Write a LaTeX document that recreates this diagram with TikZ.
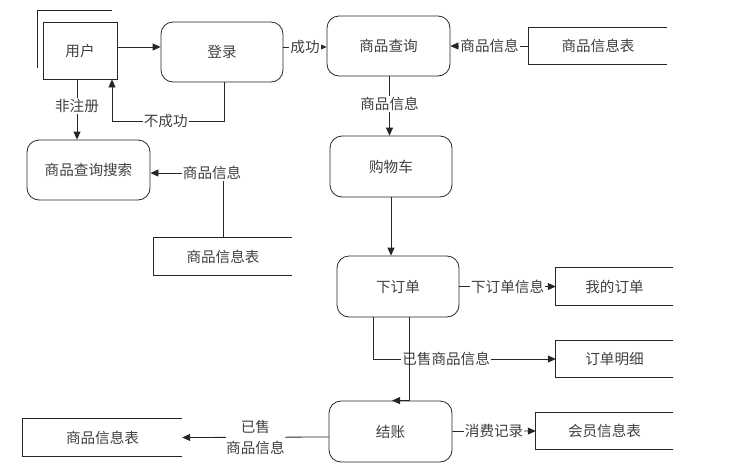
\documentclass[tikz,border=0pt]{standalone}
\usepackage{fontspec}
\newfontfamily\cjk{Noto Sans CJK SC}
\usetikzlibrary{arrows.meta}
\begin{document}
\begin{tikzpicture}[x=1pt,y=-1pt,
  every node/.style={font=\cjk\fontsize{14.6}{17}\selectfont, text=black!75},
  proc/.style={draw=black!85, line width=0.8pt, rounded corners=12pt, minimum width=#1, minimum height=60pt, inner sep=0pt},
  proc/.default=122pt,
  ent/.style={draw=black!85, line width=0.8pt, minimum width=74pt, minimum height=57pt},
  store/.style={minimum height=36pt, inner sep=0pt},
  lbl/.style={fill=white, inner sep=1pt},
  conn/.style={draw=black!85, line width=0.8pt},
  arr/.style={conn, -{Triangle[length=8pt,width=7pt]}}
]
\useasboundingbox (0,0) rectangle (746,466);

% nodes
\node[ent] (user) at (80,50.5) {用户};
\node[proc] (login) at (222,52) {登录};
\node[proc=123pt] (query) at (388.5,46) {商品查询};
\node[proc, minimum height=61pt] (cart) at (391,166.5) {购物车};
\node[proc, minimum height=61pt] (order) at (398,286.5) {下订单};
\node[proc=123pt, minimum height=61pt] (pay) at (390.5,431.5) {结账};
\node[proc=123pt] (search) at (88.5,170) {商品查询搜索};

\node[store, minimum width=138pt] (s1) at (598,46) {商品信息表};
\node[store, minimum width=138pt, minimum height=37pt] (s2) at (223,256.5) {商品信息表};
\node[store, minimum width=117pt, minimum height=37pt] (s3) at (614.5,286.5) {我的订单};
\node[store, minimum width=117pt] (s4) at (614.5,359) {订单明细};
\node[store, minimum width=137pt] (s5) at (604.5,431) {会员信息表};
\node[store, minimum width=159pt, minimum height=37pt] (s6) at (102.5,437.5) {商品信息表};

% open data stores
\foreach \s in {s1,s2,s3,s4,s5,s6}
  \draw[conn] (\s.north east) -- (\s.north west) -- (\s.south west) -- (\s.south east);

% shadow lines of user entity
\coordinate (u1) at (37,68);
\coordinate (u2) at (37,10);
\coordinate (u3) at (112,10);
\draw[conn] (u1) -- (u2) -- (u3);

% connectors
\draw[arr] ([yshift=3.5pt]user.east) -- ([yshift=5pt]login.west);
\draw[arr] ([yshift=5pt]login.east) -- node[lbl]{成功} ([yshift=-1pt]query.west);
\draw[arr] ([xshift=2pt]login.south) -- ++(0,39) -| node[lbl, pos=0.26]{不成功} ([xshift=32pt]user.south);
\draw[arr] ([xshift=-3pt]user.south) -- node[lbl, pos=0.44]{非注册} ([xshift=-3pt]user.south |- search.north);
\draw[arr] (s1.west) -- node[lbl]{商品信息} (query.east);
\draw[arr] (s2.north) |- node[lbl, pos=0.575]{商品信息} ([yshift=-3pt]search.east);
\draw[arr] ([xshift=1pt]query.south) -- node[lbl, pos=0.47]{商品信息} ([xshift=1pt]query.south |- cart.north);
\draw[arr] (cart.south) -- (cart.south |- order.north);
\draw[arr] (order.east) -- node[lbl]{下订单信息} (s3.west);
\draw[arr] ([xshift=-25pt]order.south) |- node[lbl, pos=0.70]{已售商品信息} (s4.west);
\draw[arr] ([xshift=11pt]order.south) |- ([xshift=1.5pt]pay.north);
\draw[arr] (pay.east) -- node[lbl]{消费记录} (s5.west);
\draw[arr] ([yshift=-5.5pt]pay.west) -- node[lbl, align=center, inner sep=0pt, font=\cjk\fontsize{14.6}{21}\selectfont]{已售\\商品信息} (s6.east);
\end{tikzpicture}
\end{document}
